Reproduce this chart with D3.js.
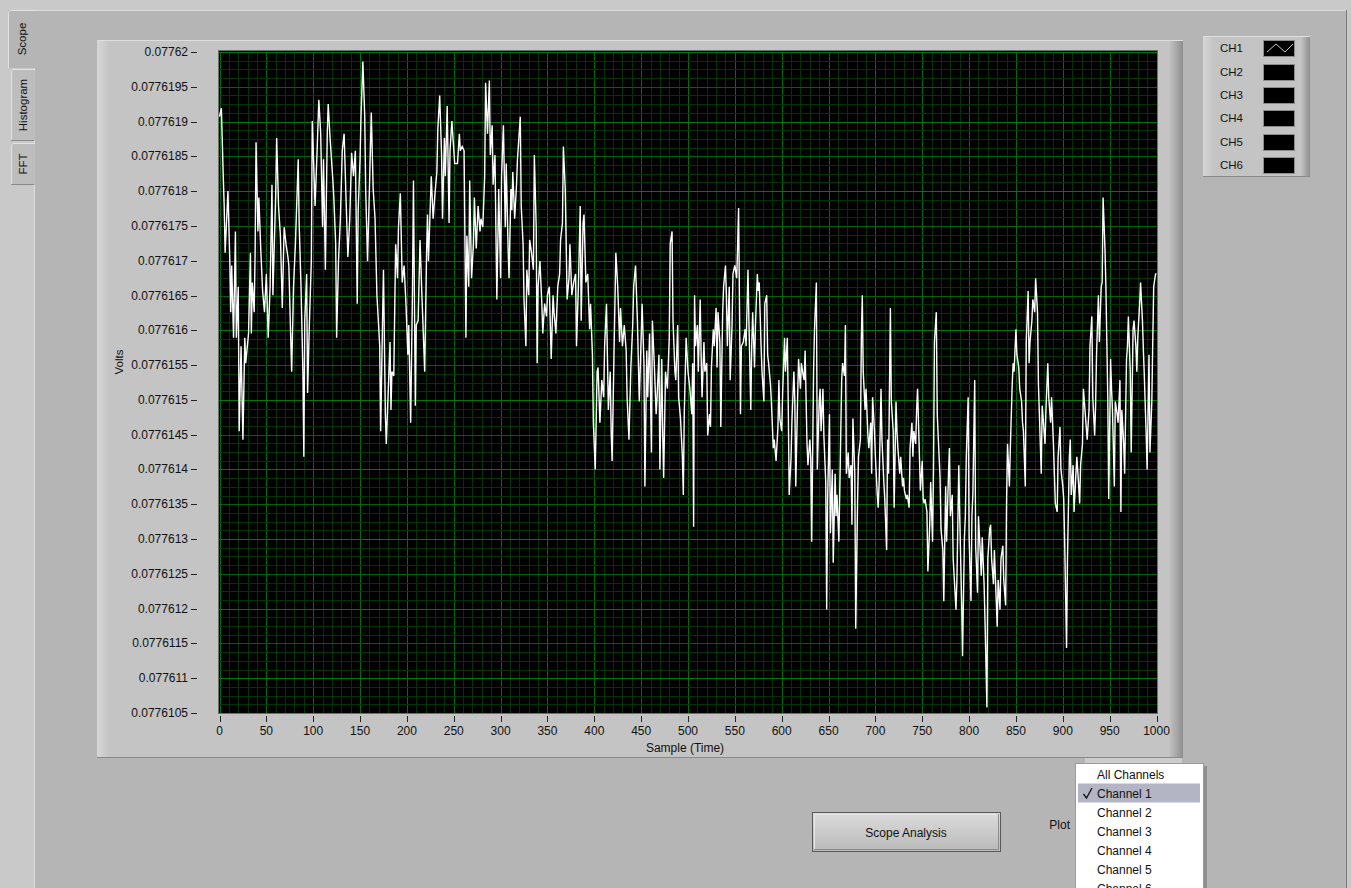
<!DOCTYPE html>
<html><head><meta charset="utf-8">
<script src="https://cdn.jsdelivr.net/npm/d3@7"></script>
<style>
body{margin:0;background:#c9c9c9;overflow:hidden}
svg{display:block;font-family:"Liberation Sans",Arial,sans-serif}
</style></head>
<body><svg id="c" width="1351" height="888"></svg>
<script>
// ---------- data ----------
const tabNames = ["Scope", "Histogram", "FFT"];
const xTicks = [0,50,100,150,200,250,300,350,400,450,500,550,600,650,700,750,800,850,900,950,1000];
const yTicks = [0.0776105,0.077611,0.0776115,0.077612,0.0776125,0.077613,0.0776135,0.077614,0.0776145,0.077615,
                0.0776155,0.077616,0.0776165,0.077617,0.0776175,0.077618,0.0776185,0.077619,0.0776195,0.07762];
const legendChannels = ["CH1","CH2","CH3","CH4","CH5","CH6"];
const menuItems = ["All Channels","Channel 1","Channel 2","Channel 3","Channel 4","Channel 5","Channel 6"];
const selectedItem = "Channel 1";
const xLabel = "Sample (Time)", yLabel = "Volts", buttonLabel = "Scope Analysis", ringLabel = "Plot";
// Channel 1 trace: [sample, volts]
const channel1 = [
[0,0.07761907],[2,0.077619192],[4,0.077618215],[5,0.077617787],[6,0.077617116],[9,0.077618001],[11,0.077616994],[12,0.077616261],[13,0.077616932],[15,0.077615894],[17,0.077617421],[18,0.077615894],[20,0.077616627],[21,0.077614551],[23,0.077615772],[25,0.077614429],[27,0.077615894],[28,0.077615528],[31,0.077615955],[33,0.077617116],[34,0.077615955],[35,0.077616688],[37,0.077616261],[38,0.077617116],[39,0.077618704],[41,0.077617421],[42,0.077617909],[44,0.077617177],[46,0.077616566],[48,0.077616261],[50,0.07761681],[52,0.077615894],[54,0.077616627],[56,0.077618093],[57,0.077616505],[60,0.077617971],[61,0.077618765],[63,0.077617787],[65,0.07761736],[67,0.077616322],[69,0.077617482],[71,0.077617238],[73,0.077617055],[74,0.077616932],[76,0.077615894],[77,0.077615406],[79,0.077616627],[81,0.077617238],[84,0.077618459],[85,0.077617543],[87,0.077616627],[89,0.077615406],[90,0.077614184],[91,0.077616139],[93,0.07761681],[94,0.0776151],[96,0.077616139],[98,0.077616994],[99,0.077619009],[102,0.077617787],[104,0.07761852],[106,0.077619314],[108,0.077618826],[110,0.077617482],[111,0.077618459],[113,0.077616871],[115,0.077618826],[116,0.077619253],[118,0.077618765],[121,0.077618154],[122,0.077617909],[124,0.077617238],[125,0.077615894],[127,0.077616994],[128,0.077617299],[129,0.077617604],[131,0.077618581],[133,0.077618826],[135,0.077617909],[137,0.077617055],[139,0.077617604],[141,0.077618551],[143,0.077618215],[145,0.077618581],[147,0.077616383],[148,0.077617726],[150,0.077618459],[151,0.07761907],[153,0.077619864],[155,0.07761907],[156,0.077618032],[158,0.077616994],[160,0.077618032],[162,0.077619131],[164,0.077618032],[166,0.077617604],[168,0.077616505],[171,0.077615772],[172,0.077614551],[174,0.077616139],[175,0.077616871],[177,0.077614795],[178,0.077614368],[180,0.0776151],[182,0.077615833],[183,0.077614856],[184,0.077615406],[186,0.077615345],[188,0.077617238],[190,0.077616749],[191,0.077617482],[193,0.077617971],[195,0.077616688],[197,0.077616932],[199,0.077616383],[201,0.07761565],[202,0.077616077],[204,0.077614673],[206,0.077616627],[207,0.077618154],[209,0.077614917],[210,0.077616077],[212,0.077616139],[214,0.077617299],[216,0.077616505],[217,0.077616139],[219,0.077615406],[221,0.077617116],[222,0.077617665],[223,0.077616994],[226,0.077618215],[228,0.077617604],[230,0.077617971],[232,0.077618276],[233,0.077618887],[235,0.077619375],[237,0.07761852],[238,0.077617604],[240,0.077618765],[241,0.077618215],[243,0.077619223],[245,0.077617543],[246,0.077618581],[248,0.077619009],
[251,0.077618398],[254,0.077618398],[256,0.077618826],[257,0.077618581],[259,0.077618642],[261,0.077618581],[263,0.077615894],[264,0.07761736],[266,0.077616627],[267,0.077618154],[269,0.077616749],[271,0.077617238],[272,0.077617909],[274,0.077617177],[276,0.077617787],[278,0.077617421],[279,0.077617604],[281,0.077617482],[283,0.077618215],[284,0.077619558],[286,0.077618826],[288,0.077619589],[289,0.07761852],[291,0.077618948],[292,0.077618093],[294,0.07761852],[295,0.077617421],[296,0.077616444],[298,0.077618032],[300,0.077616749],[301,0.077618215],[303,0.077618948],[305,0.077617482],[306,0.077618398],[308,0.077617177],[309,0.077616749],[311,0.077618032],[312,0.077617726],[313,0.077618276],[315,0.077617604],[317,0.077618093],[318,0.077618459],[321,0.07761907],[322,0.077617787],[324,0.077617238],[325,0.077616444],[327,0.077615772],[328,0.077616871],[330,0.077616505],[331,0.077617299],[333,0.077617116],[335,0.077616871],[336,0.07761852],[338,0.077617482],[339,0.077615528],[340,0.077616627],[342,0.077616994],[344,0.077616383],[345,0.077615955],[347,0.077616383],[349,0.0776162],[350,0.077616505],[352,0.077616627],[354,0.077615589],[356,0.077616505],[357,0.077616261],[359,0.077615955],[361,0.077616627],[363,0.07761681],[364,0.077617299],[366,0.077617543],[367,0.077618642],[369,0.077618032],[371,0.077616444],[373,0.077616749],[374,0.077617238],[376,0.077616505],[378,0.077616688],[380,0.07761681],[381,0.077615772],[383,0.077616627],[385,0.077617787],[386,0.077616139],[388,0.077617543],[389,0.077617665],[391,0.077616688],[393,0.07761681],[395,0.077616016],[396,0.077616383],[398,0.07761565],[399,0.077614673],[401,0.077614001],[403,0.077615406],[404,0.077615467],[406,0.077614673],[408,0.077615284],[410,0.077615039],[411,0.077615772],[413,0.077616383],[415,0.077614856],[417,0.077615406],[418,0.077614551],[419,0.077614123],[421,0.07761565],[423,0.077617116],[425,0.077616627],[427,0.077615833],[428,0.077616322],[430,0.077615772],[432,0.077616077],[434,0.077615711],[435,0.077615039],[437,0.077614429],[439,0.077615467],[441,0.077616077],[442,0.077616627],[444,0.077616932],[446,0.077616139],[448,0.077614978],[450,0.077615894],[451,0.077616383],[453,0.077615528],[454,0.077613757],[456,0.077615711],[457,0.077615039],[459,0.077615955],[461,0.077614245],[462,0.077616139],[464,0.077615528],[466,0.077614795],[467,0.077615039],[469,0.07761565],[470,0.077614001],[472,0.077615589],[473,0.077614551],[474,0.077613879],[476,0.077615406],[478,0.077615161],[480,0.077615894],[481,0.077617238],[483,0.077617421],[484,0.077616139],[486,0.077615406],[487,0.077615284],[489,0.077616077],[490,0.077615039],[492,0.077614734],[494,0.077614184],[495,0.077613635],[496,0.077614795],[498,0.077615894],[500,0.077615406],
[502,0.077615161],[504,0.077614795],[505,0.077615528],[506,0.077613177],[507,0.077616505],[508,0.077615772],[510,0.077616077],[511,0.077615406],[513,0.077616444],[514,0.07761565],[515,0.077615039],[517,0.077615833],[518,0.077615406],[520,0.077615528],[521,0.07761449],[523,0.077614795],[524,0.077614612],[525,0.077615467],[527,0.077616016],[528,0.077615772],[530,0.077616322],[531,0.077615467],[532,0.077616261],[534,0.077615833],[535,0.077614612],[537,0.077616261],[538,0.077616627],[540,0.077616932],[541,0.077616505],[542,0.077615772],[544,0.077616627],[545,0.077615284],[547,0.077616077],[548,0.07761681],[550,0.077616932],[552,0.077616749],[553,0.077617238],[554,0.077617757],[556,0.077614795],[557,0.077615772],[559,0.077615833],[561,0.077616016],[562,0.077615772],[564,0.077616871],[565,0.077616139],[567,0.077614856],[568,0.077615772],[569,0.077616261],[571,0.077615467],[572,0.077616077],[574,0.07761681],[575,0.077616566],[576,0.077616688],[578,0.077615772],[579,0.077615406],[581,0.077614978],[582,0.077616383],[584,0.077616505],[585,0.07761565],[586,0.077615528],[588,0.077615223],[589,0.077614978],[591,0.077614307],[592,0.077614429],[594,0.077614123],[596,0.077614612],[597,0.077615284],[598,0.077614734],[600,0.077614551],[601,0.0776151],[603,0.077615894],[604,0.077615406],[606,0.077615894],[607,0.077614917],[608,0.077613635],[610,0.077614184],[611,0.077614734],[613,0.077615406],[614,0.077614978],[615,0.077613757],[617,0.077615039],[618,0.077615589],[620,0.077615161],[621,0.077615528],[623,0.077615345],[624,0.077615284],[625,0.077615711],[627,0.077614368],[628,0.077614062],[630,0.077614429],[631,0.077614184],[632,0.077612963],[634,0.077615406],[635,0.077616016],[637,0.077616688],[638,0.077614001],[640,0.077614978],[641,0.077615161],[642,0.077614551],[644,0.077615161],[645,0.07761449],[647,0.077613818],[648,0.077611986],[649,0.077613574],[651,0.077614795],[652,0.077613085],[654,0.077614001],[655,0.077612658],[657,0.07761394],[658,0.077613329],[659,0.077613635],[661,0.077612963],[662,0.077613696],[664,0.077615284],[665,0.077615528],[667,0.077615345],[668,0.077616077],[669,0.07761394],[671,0.077614245],[672,0.077613879],[674,0.077614062],[675,0.077613207],[676,0.077614734],[678,0.07761394],[679,0.077611711],[681,0.077613574],[682,0.077614184],[684,0.077614429],[685,0.077615894],[686,0.077616505],[687,0.077615406],[689,0.077614856],[690,0.077615161],[692,0.07761449],[693,0.077614307],[695,0.077614673],[696,0.07761394],[697,0.077615039],[699,0.077614551],[700,0.077614184],[702,0.077613635],[703,0.077613451],[704,0.077613818],[706,0.077615161],[707,0.077614429],[709,0.077613818],[710,0.077613574],[712,0.077612841],[713,0.077614429],[714,0.07761394],[716,0.077616322],[717,0.077614978],[719,0.077614551],[720,0.077613451],[722,0.077614978],[723,0.077614551],[724,0.077614307],[726,0.07761394],[727,0.077614184],[729,0.077613757],[730,0.077613879],[731,0.077613696],[733,0.077613574],[734,0.077613635],[736,0.077613451],[737,0.077614307],[739,0.077614673],[740,0.077614184],[741,0.077614551],[743,0.077614368],[744,0.077614856],[745,0.077615161],[747,0.077614184],[748,0.077613696],[750,0.077614123],[751,0.077613574],
[752,0.077613512],[753,0.077613574],[755,0.07761339],[756,0.077612535],[758,0.077613207],[759,0.077613818],[761,0.077612963],[762,0.077614001],[763,0.077615833],[765,0.077616261],[766,0.077614795],[768,0.077614184],[769,0.077613879],[770,0.077613146],[772,0.077612841],[773,0.077612108],[775,0.077613757],[776,0.077612963],[778,0.07761394],[779,0.077614307],[780,0.077613329],[782,0.077613635],[783,0.077612719],[785,0.07761223],[786,0.077611986],[787,0.077612413],[789,0.077614062],[790,0.077613329],[792,0.077612108],[793,0.077611314],[795,0.077613024],[796,0.077613329],[797,0.077614184],[799,0.077615039],[800,0.077613024],[802,0.077612108],[803,0.077613329],[804,0.077613635],[806,0.077615284],[807,0.077612902],[809,0.07761223],[810,0.077613329],[812,0.07761278],[813,0.077612474],[814,0.077613024],[816,0.077612352],[817,0.077611803],[819,0.077610581],[820,0.077612719],[822,0.077613146],[823,0.077613207],[824,0.077612719],[826,0.077612352],[827,0.077612841],[829,0.077612108],[830,0.077611741],[831,0.077612413],[833,0.077611986],[834,0.077612719],[836,0.077612902],[837,0.077612413],[839,0.077612047],[840,0.077613574],[841,0.077614368],[843,0.077613757],[844,0.077614307],[846,0.077615223],[847,0.077615528],[848,0.077615406],[850,0.077616016],[851,0.07761565],[853,0.077615467],[854,0.077615161],[856,0.077614978],[857,0.077614673],[858,0.077614551],[860,0.077613757],[861,0.077615833],[863,0.077616566],[864,0.077615528],[865,0.077615833],[867,0.077616139],[868,0.077616444],[870,0.077616261],[871,0.077616749],[873,0.077616261],[874,0.077615223],[875,0.077614795],[877,0.07761394],[878,0.077614917],[880,0.077614551],[881,0.077614368],[882,0.077614856],[884,0.077615528],[885,0.077615039],[887,0.077614673],[888,0.077615039],[890,0.077614368],[891,0.07761394],[892,0.077613512],[894,0.07761339],[895,0.077614184],[897,0.077614612],[898,0.077614001],[900,0.077613757],[901,0.077613574],[902,0.077612963],[904,0.077611436],[905,0.077612719],[907,0.077614184],[908,0.077614429],[909,0.077613635],[911,0.077614062],[912,0.07761339],[914,0.07761394],[915,0.077614184],[917,0.077613757],[918,0.077613512],[919,0.077614062],[921,0.077614368],[922,0.077615161],[924,0.077614795],[925,0.077614612],[926,0.077614429],[928,0.077614856],[929,0.077615772],[931,0.0776162],[932,0.077615039],[934,0.07761449],[935,0.077614917],[936,0.07761565],[938,0.077616505],[939,0.077615833],[941,0.077616627],[942,0.077616688],[943,0.077617909],[945,0.077617177],[946,0.077616627],[948,0.077615039],[949,0.077613574],[951,0.077615589],[952,0.077615161],[953,0.077614856],[955,0.077613757],[956,0.077614978],[958,0.077614795],[959,0.077614673],[961,0.077615284],[962,0.07761339],[963,0.077614856],[965,0.077614368],[966,0.07761394],[968,0.077615589],[969,0.077615772],[970,0.0776162],[972,0.077615406],[973,0.077614245],[975,0.077616016],[976,0.077616139],[978,0.077615772],[979,0.077615406],[980,0.077615894],[982,0.077616383],[983,0.077616688],[985,0.077616139],[986,0.077615711],[987,0.077615345],[989,0.07761449],[990,0.077614001],[992,0.07761565],[993,0.077614245],[995,0.077614978],[996,0.077615833],[997,0.077616627],[999,0.07761681],[1000,0.07761681]
];

// ---------- layout ----------
const svg = d3.select("#c");
const P = {l:219, r:1157, t:52, b:713};
const x = d3.scaleLinear().domain([0,1000]).range([P.l+0.5, P.r-0.5]);
const y = d3.scaleLinear().domain([0.0776105,0.07762]).range([P.b, P.t]);

const defs = svg.append("defs");
function grad(id, stops, vertical){
  const g = defs.append("linearGradient").attr("id", id)
    .attr("x1",0).attr("y1",0).attr("x2",vertical?0:1).attr("y2",vertical?1:0);
  stops.forEach(s=>g.append("stop").attr("offset",s[0]).attr("stop-color",s[1]));
}
grad("gLeft", [[0,"#d6d6d6"],[1,"#c4c4c4"]], false);
grad("gRight", [[0,"#c3c3c3"],[1,"#8e8e8e"]], false);
grad("gBtn", [[0,"#dcdcdc"],[1,"#b9b9b9"]], true);

// outer background & tab page
svg.append("rect").attr("width",1351).attr("height",888).attr("fill","#c9c9c9");
svg.append("rect").attr("x",34).attr("y",10).attr("width",1313).attr("height",878).attr("fill","#b5b5b5");
svg.append("line").attr("x1",34).attr("x2",1347).attr("y1",10.5).attr("y2",10.5).attr("stroke","#dcdcdc");
svg.append("line").attr("x1",34.5).attr("x2",34.5).attr("y1",68).attr("y2",888).attr("stroke","#dcdcdc");
svg.append("line").attr("x1",1346.5).attr("x2",1346.5).attr("y1",10).attr("y2",888).attr("stroke","#7a7a7a");

// tabs
const tabGeom = [{y0:10,y1:68,x0:8,sel:true},{y0:69,y1:141,x0:11},{y0:143,y1:185,x0:11}];
tabNames.forEach((t,i)=>{
  const g = tabGeom[i];
  svg.append("rect").attr("x",g.x0).attr("y",g.y0).attr("width",35-g.x0).attr("height",g.y1-g.y0)
    .attr("fill", g.sel ? "#b5b5b5" : "#bdbdbd");
  svg.append("path").attr("d",`M${g.x0+0.5},${g.y1} V${g.y0+2.5} Q${g.x0+0.5},${g.y0+0.5} ${g.x0+2.5},${g.y0+0.5} H35`)
    .attr("fill","none").attr("stroke","#e2e2e2");
  if(!g.sel) svg.append("line").attr("x1",g.x0).attr("x2",34).attr("y1",g.y1-0.5).attr("y2",g.y1-0.5).attr("stroke","#8a8a8a");
  svg.append("text").attr("transform",`translate(${g.x0+(35-g.x0)/2+4},${(g.y0+g.y1)/2}) rotate(-90)`)
    .attr("text-anchor","middle").attr("font-size",11.5).attr("fill","#111").text(t);
});

// graph bezel
svg.append("rect").attr("x",97).attr("y",40).attr("width",1086).attr("height",718).attr("fill","#c4c4c4");
svg.append("rect").attr("x",97).attr("y",40).attr("width",13).attr("height",718).attr("fill","url(#gLeft)");
svg.append("rect").attr("x",1169).attr("y",40).attr("width",14).attr("height",718).attr("fill","url(#gRight)");
svg.append("line").attr("x1",97).attr("x2",1183).attr("y1",40.5).attr("y2",40.5).attr("stroke","#dedede");
svg.append("line").attr("x1",97).attr("x2",1183).attr("y1",757.5).attr("y2",757.5).attr("stroke","#8a8a8a");
svg.append("rect").attr("x",1085).attr("y",758).attr("width",97).attr("height",5).attr("fill","#cdcdcd");

// plot area
svg.append("rect").attr("x",P.l).attr("y",P.t-1).attr("width",P.r-P.l).attr("height",P.b-P.t+1).attr("fill","#000");
const grid = svg.append("g").attr("shape-rendering","crispEdges");
const xMinor = d3.range(0,1001,10);
xMinor.forEach(v=>{
  const major = v%50===0;
  grid.append("line").attr("x1",Math.round(x(v))+0.5).attr("x2",Math.round(x(v))+0.5)
    .attr("y1",P.t).attr("y2",P.b).attr("stroke", major ? "#007000" : "#003400");
});
const yMinor = d3.range(0,77).map(i=>0.0776105+i*1.25e-7);
yMinor.forEach((v,i)=>{
  const major = i%4===0, big = i%8===4;
  grid.append("line").attr("x1",P.l).attr("x2",P.r).attr("y1",Math.round(y(v))+0.5).attr("y2",Math.round(y(v))+0.5)
    .attr("stroke", big ? "#007a00" : (major ? "#006400" : "#003400"));
});
svg.append("rect").attr("x",P.l-0.5).attr("y",P.t-1.5).attr("width",P.r-P.l+1).attr("height",P.b-P.t+2)
  .attr("fill","none").attr("stroke","#6e6e6e").attr("shape-rendering","crispEdges");

// trace
const line = d3.line().x(d=>x(d[0])).y(d=>y(d[1]));
svg.append("path").datum(channel1).attr("d",line).attr("fill","none").attr("stroke","#ffffff").attr("stroke-width",1.4);

// y axis
const fmt = d3.format(".7~f");
const yAx = svg.append("g").attr("font-size",12).attr("fill","#111");
yTicks.forEach(v=>{
  const yy = y(v);
  yAx.append("text").attr("x",188).attr("y",yy+4).attr("text-anchor","end").text(fmt(v));
  yAx.append("line").attr("x1",191).attr("x2",197).attr("y1",Math.round(yy)+0.5).attr("y2",Math.round(yy)+0.5)
    .attr("stroke","#222").attr("shape-rendering","crispEdges");
});
svg.append("text").attr("transform","translate(123,362) rotate(-90)").attr("text-anchor","middle")
  .attr("font-size",11.5).attr("fill","#111").text(yLabel);

// x axis
const xAx = svg.append("g").attr("font-size",12).attr("fill","#111");
xTicks.forEach(v=>{
  const xx = Math.round(x(v))+0.5;
  xAx.append("line").attr("x1",xx).attr("x2",xx).attr("y1",716).attr("y2",722).attr("stroke","#222").attr("shape-rendering","crispEdges");
  xAx.append("text").attr("x",x(v)).attr("y",735).attr("text-anchor","middle").text(v);
});
svg.append("text").attr("x",685).attr("y",752).attr("text-anchor","middle").attr("font-size",12).attr("fill","#111").text(xLabel);

// legend
const L = {x:1203,y:36,w:107,h:141};
svg.append("rect").attr("x",L.x).attr("y",L.y).attr("width",L.w).attr("height",L.h).attr("fill","#c4c4c4");
svg.append("rect").attr("x",L.x).attr("y",L.y).attr("width",11).attr("height",L.h).attr("fill","url(#gLeft)");
svg.append("rect").attr("x",L.x+L.w-9).attr("y",L.y).attr("width",9).attr("height",L.h).attr("fill","url(#gRight)");
svg.append("line").attr("x1",L.x).attr("x2",L.x+L.w).attr("y1",L.y+0.5).attr("y2",L.y+0.5).attr("stroke","#dedede");
svg.append("line").attr("x1",L.x).attr("x2",L.x+L.w).attr("y1",L.y+L.h-0.5).attr("y2",L.y+L.h-0.5).attr("stroke","#8a8a8a");
legendChannels.forEach((c,i)=>{
  const cy = 48.3 + i*23.35;
  svg.append("text").attr("x",1220).attr("y",cy+4).attr("font-size",11.5).attr("fill","#111").text(c);
  svg.append("rect").attr("x",1263.5).attr("y",Math.round(cy-8)+0.5).attr("width",31).attr("height",16)
    .attr("fill","#000").attr("stroke","#8c8c8c").attr("shape-rendering","crispEdges");
  if(i===0){
    const sx=1264, sy=Math.round(cy-8);
    svg.append("path").attr("d",`M${sx+3},${sy+12} L${sx+12},${sy+4} L${sx+21},${sy+12} L${sx+29},${sy+4}`)
      .attr("fill","none").attr("stroke","#c8c8c8").attr("stroke-width",1);
  }
});

// button
svg.append("rect").attr("x",812.5).attr("y",812.5).attr("width",188).attr("height",39)
  .attr("fill","url(#gBtn)").attr("stroke","#5a5a5a");
svg.append("path").attr("d","M814.5,850 V814.5 H999").attr("fill","none").attr("stroke","#e6e6e6");
svg.append("path").attr("d","M814,849.5 H998.5 V814").attr("fill","none").attr("stroke","#8c8c8c");
svg.append("text").attr("x",906).attr("y",837).attr("text-anchor","middle").attr("font-size",12).attr("fill","#111").text(buttonLabel);

// ring label
svg.append("text").attr("x",1070).attr("y",829).attr("text-anchor","end").attr("font-size",12).attr("fill","#111").text(ringLabel);

// drop-down menu (last item is cut by the window edge, as in the original)
svg.append("rect").attr("x",1075.5).attr("y",763.5).attr("width",128).attr("height",130)
  .attr("fill","#ffffff").attr("stroke","#9a9a9a");
svg.append("rect").attr("x",1204).attr("y",766).attr("width",3).attr("height",125).attr("fill","#8f8f8f");
menuItems.forEach((m,i)=>{
  const cy = 774 + i*19;
  if(m===selectedItem){
    svg.append("rect").attr("x",1078).attr("y",cy-9.5).attr("width",122).attr("height",19).attr("fill","#b3b5c4");
    svg.append("path").attr("d",`M1083.5,${cy+1} L1086.5,${cy+5} L1092,${cy-5}`).attr("fill","none").attr("stroke","#111").attr("stroke-width",1.3);
  }
  svg.append("text").attr("x",1097).attr("y",cy+4.5).attr("font-size",12).attr("fill","#111").text(m);
});
</script></body></html>
